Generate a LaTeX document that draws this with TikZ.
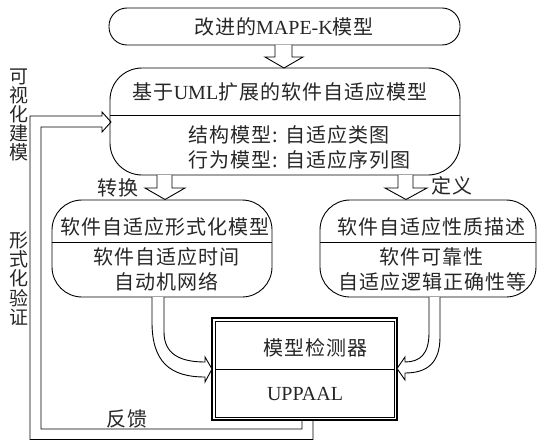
\documentclass[tikz,border=0pt]{standalone}
\usepackage{fontspec}
\setmainfont[LetterSpace=5]{Noto Sans CJK SC}
\newfontfamily\latfont{Liberation Serif}
\newcommand\lt[1]{{\latfont #1}}
\begin{document}
\begin{tikzpicture}[x=1pt,y=-1pt,
  lw/.style={line width=0.9pt},
  box/.style={draw,lw,rectangle,inner sep=0pt},
  txt/.style={inner sep=0pt,text=black!85,font=\fontsize{20}{24}\selectfont},
  side/.style={inner sep=0pt,text=black!85,align=center,font=\fontsize{19}{19.2}\selectfont},
  blk/.style={draw,lw,fill=white,line join=miter}]
\useasboundingbox (0,0) rectangle (537,441);
% boxes
\node[box,rounded corners=18pt,minimum width=351pt,minimum height=37pt] (top) at (284.5,26.5) {};
\node[box,rounded corners=32pt,minimum width=350pt,minimum height=107pt] (uml) at (285,121.5) {};
\node[box,rounded corners=30pt,minimum width=220pt,minimum height=97pt] (form) at (162,248.5) {};
\node[box,rounded corners=30pt,minimum width=216pt,minimum height=97pt] (prop) at (428,248.5) {};
\node[draw,line width=1.4pt,rectangle,minimum width=185pt,minimum height=102pt,inner sep=0pt] (chk) at (304.5,369) {};
\node[draw,line width=0.7pt,rectangle,minimum width=179pt,minimum height=96pt,inner sep=0pt] (chkin) at (304.5,369) {};
% dividers
\draw[lw] (uml.west |- 0,115) -- (uml.east |- 0,115);
\draw[lw] (form.west |- 0,242) -- (form.east |- 0,242);
\draw[lw] (prop.west |- 0,242) -- (prop.east |- 0,242);
\draw[line width=0.7pt] (chkin.west |- 0,369) -- (chkin.east |- 0,369);
% texts
\node[txt] (t0) at (284,27) {改进的\lt{MAPE-K}模型};
\node[txt] (t1) at (280,92) {基于\lt{UML}扩展的软件自适应模型};
\node[txt,anchor=west] (t2) at (188,135) {结构模型: 自适应类图};
\node[txt,anchor=west] (t3) at (188,160) {行为模型: 自适应序列图};
\node[txt] (t4) at (165,227) {软件自适应形式化模型};
\node[txt] (t5) at (166,257) {软件自适应时间};
\node[txt] (t6) at (166,282) {自动机网络};
\node[txt] (t7) at (431,227) {软件自适应性质描述};
\node[txt] (t8) at (431,257) {软件可靠性};
\node[txt] (t9) at (432,282) {自适应逻辑正确性等};
\node[txt] (t10) at (315,348) {模型检测器};
\node[txt] (t11) at (305,394) {\lt{UPPAAL}};
\node[txt] (lz) at (118,188) {转换};
\node[txt] (ld) at (452,186) {定义};
\node[txt] (lf) at (127,419) {反馈};
\node[side] (sv) at (19,115) {可\\视\\化\\建\\模};
\node[side] (sf) at (19,278.5) {形\\式\\化\\验\\证};
% block arrows
\draw[blk] (275,45) -- (275,57) -- (265,57) -- (284,68) -- (303,57) -- (292,57) -- (292,45);
\draw[blk] (157,175) -- (157,188) -- (145,188) -- (165,199.5) -- (185,188) -- (172,188) -- (172,175);
\draw[blk] (398,175) -- (398,188) -- (385,188) -- (406,199.5) -- (427,188) -- (413,188) -- (413,175);
% curved arrows
\draw[blk] (152,297) -- (152,322) .. controls (152,362) and (170,377) .. (205,377) -- (205,382) -- (212,369) -- (205,357) -- (205,362) .. controls (180,362) and (164,354) .. (164,332) -- (164,297);
\draw[blk] (440,297) -- (440,337) .. controls (440,362) and (428,373) .. (405,373) -- (405,380) -- (397,368.5) -- (405,357) -- (405,362) .. controls (420,362) and (429,354) .. (429,333) -- (429,297);
% feedback
\draw[lw,line join=miter] (313,420.7) -- (313,439.5) -- (30,439.5) -- (30,116) -- (102,116) -- (102,112) -- (111,122) -- (102,132) -- (102,127) -- (41,127) -- (41,429) -- (302,429) -- (302,420.7);
\end{tikzpicture}
\end{document}
